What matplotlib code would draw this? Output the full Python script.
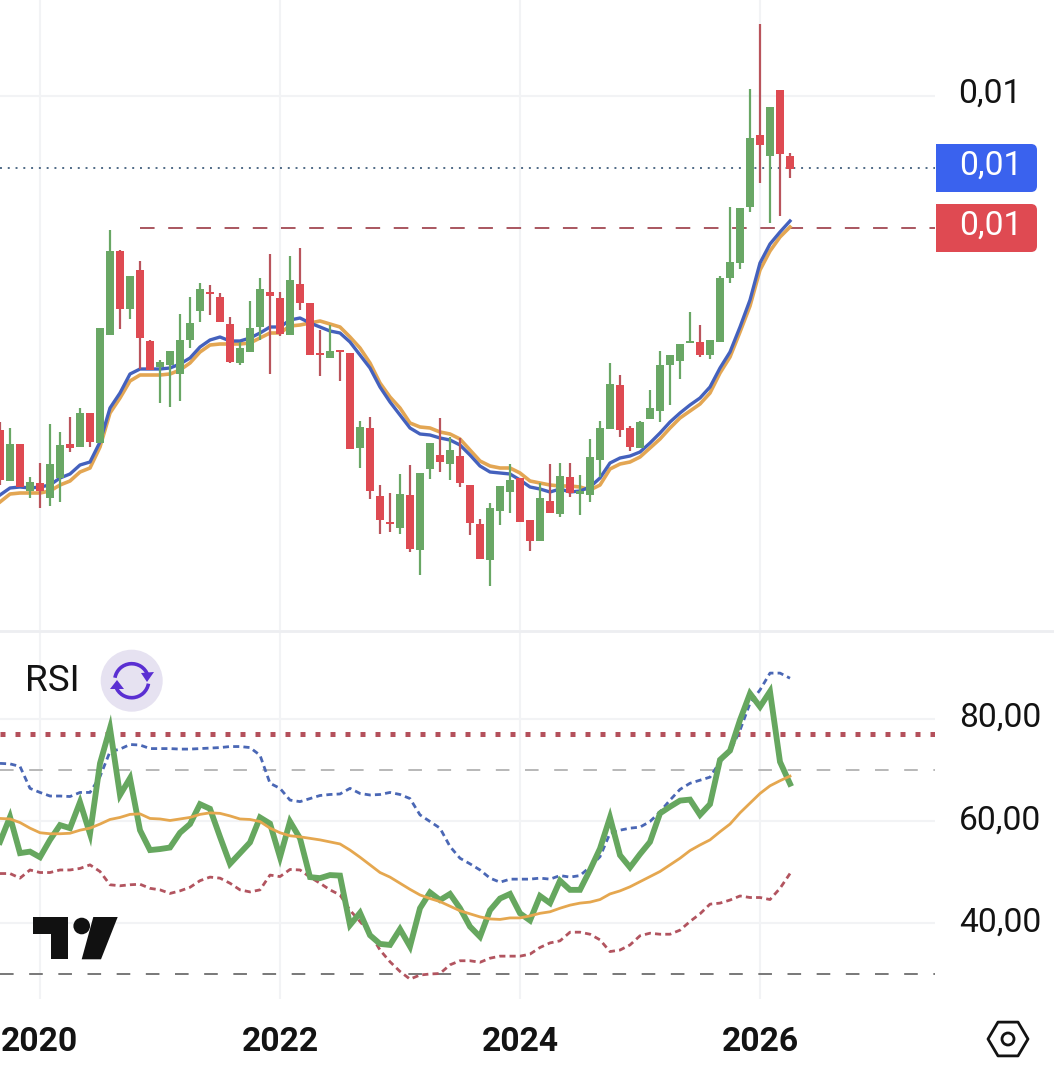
"""Monthly candlestick chart with EMA ribbon and RSI pane."""

from __future__ import annotations

import matplotlib

matplotlib.use("Agg")
import matplotlib.pyplot as plt
import numpy as np
from matplotlib.patches import Arc, Circle, FancyBboxPatch, Polygon, Rectangle

W, H = 1054, 1076

# prices, in units of 1e-5
opens = [
    666, 615, 652, 605, 613, 598, 618, 652, 649, 683,
    653, 761, 845, 787, 826, 755, 729, 731, 722, 756,
    785, 804, 799, 772, 733, 744, 769, 804, 798, 761,
    812, 793, 743, 738, 746, 743, 648, 668, 600, 574,
    568, 601, 546, 627, 641, 632, 640, 611, 572, 536,
    585, 604, 618, 576, 555, 595, 582, 619, 602, 601,
    636, 667, 711, 668, 648, 677, 685, 731, 735, 753,
    754, 741, 754, 818, 833, 889, 961, 940, 1006, 940,
]
closes = [
    616, 652, 609, 614, 605, 632, 651, 648, 683, 654,
    768, 845, 787, 820, 758, 726, 734, 745, 756, 773,
    807, 802, 774, 734, 748, 768, 807, 800, 762, 816,
    793, 741, 741, 745, 744, 647, 669, 605, 576, 572,
    602, 547, 623, 653, 634, 646, 613, 573, 537, 588,
    610, 616, 574, 555, 598, 583, 620, 603, 605, 639,
    668, 712, 666, 649, 674, 688, 731, 741, 752, 755,
    741, 756, 818, 834, 888, 958, 951, 989, 942, 927,
]
highs = [
    674, 668, 652, 619, 633, 672, 664, 679, 688, 683,
    768, 866, 846, 820, 835, 756, 736, 745, 782, 799,
    813, 811, 803, 779, 754, 795, 818, 842, 804, 840,
    848, 793, 766, 771, 746, 743, 675, 679, 611, 603,
    622, 631, 623, 653, 678, 659, 658, 611, 577, 593,
    610, 632, 618, 576, 613, 632, 633, 633, 621, 657,
    675, 733, 721, 670, 675, 706, 745, 741, 752, 784,
    771, 756, 820, 889, 888, 1007, 1072, 989, 1006, 943,
]
lows = [
    611, 615, 609, 598, 588, 590, 594, 644, 649, 649,
    653, 761, 767, 777, 727, 726, 693, 689, 695, 748,
    774, 781, 774, 733, 731, 744, 756, 722, 760, 761,
    786, 741, 720, 738, 715, 647, 628, 597, 562, 564,
    562, 544, 521, 617, 624, 616, 609, 561, 537, 510,
    571, 583, 574, 545, 555, 583, 579, 599, 581, 594,
    619, 667, 659, 645, 648, 677, 674, 691, 717, 753,
    739, 737, 754, 813, 827, 884, 913, 873, 880, 918,
]
ema_fast = [
    601, 608, 609, 608, 609, 611, 618, 622, 631, 634,
    654, 688, 703, 722, 727, 727, 727, 728, 732, 738,
    749, 756, 759, 755, 755, 758, 763, 769, 769, 776,
    778, 773, 769, 765, 763, 754, 741, 728, 709, 694,
    681, 668, 662, 661, 658, 656, 651, 641, 630, 624,
    623, 622, 616, 609, 607, 604, 607, 604, 605, 609,
    618, 633, 638, 640, 644, 653, 663, 674, 683, 691,
    698, 709, 728, 744, 769, 796, 833, 852, 864, 875,
]
ema_slow = [
    594, 602, 603, 603, 603, 605, 611, 615, 624, 628,
    649, 683, 698, 715, 721, 721, 721, 722, 726, 733,
    744, 751, 752, 752, 752, 753, 758, 763, 763, 770,
    771, 773, 775, 772, 769, 759, 748, 733, 713, 699,
    688, 673, 669, 668, 664, 662, 657, 646, 635, 630,
    628, 628, 623, 615, 613, 611, 610, 610, 609, 606,
    611, 627, 632, 634, 639, 648, 657, 668, 678, 685,
    692, 703, 723, 739, 764, 790, 826, 845, 859, 869,
]
last_price = 928
ref_price = 868
ref_start = 14
price_grid = [1000]

rsi = [
    55.9, 60.8, 53.7, 54.0, 52.9, 56.3, 59.2, 58.6, 63.7, 57.5,
    71.3, 78.2, 65.1, 68.4, 58.2, 54.3, 54.5, 54.8, 57.7, 59.4,
    63.3, 62.4, 56.9, 51.6, 53.7, 55.8, 60.7, 59.5, 52.9, 59.9,
    56.6, 49.0, 48.8, 49.4, 49.3, 39.6, 42.0, 37.6, 35.9, 35.7,
    38.8, 35.4, 42.9, 46.0, 44.5, 45.7, 42.9, 39.3, 37.3, 42.5,
    44.8, 45.7, 41.9, 40.5, 45.3, 43.9, 48.3, 46.5, 46.5, 50.4,
    54.6, 60.7, 53.3, 50.9, 53.5, 55.9, 61.5, 62.8, 64.0, 64.2,
    61.2, 63.3, 72.0, 73.8, 79.8, 85.0, 82.4, 85.4, 71.6, 67.3,
]
rsi_ma = [
    60.5, 60.4, 59.7, 58.6, 57.7, 57.5, 57.5, 57.6, 58.2, 58.6,
    59.4, 60.3, 60.7, 61.3, 61.4, 60.5, 60.4, 60.1, 60.4, 60.7,
    61.3, 61.6, 61.5, 61.0, 60.4, 60.3, 59.9, 58.6, 57.7, 57.1,
    56.9, 56.6, 56.3, 55.9, 55.5, 54.3, 52.9, 51.4, 49.9, 49.0,
    47.8, 46.6, 45.5, 44.8, 44.2, 43.3, 42.4, 41.8, 41.2, 40.8,
    40.7, 41.0, 41.0, 41.4, 41.9, 42.2, 42.9, 43.5, 43.9, 44.1,
    44.6, 45.7, 46.3, 47.1, 48.1, 49.1, 50.1, 51.4, 52.7, 54.2,
    55.3, 56.3, 57.9, 59.4, 61.6, 63.5, 65.4, 66.9, 67.9, 68.8,
]
rsi_upper = [
    71.3, 71.2, 70.7, 66.4, 65.6, 64.9, 64.9, 64.8, 65.6, 65.6,
    68.7, 73.6, 74.1, 75.0, 74.9, 74.2, 74.2, 74.2, 74.1, 74.1,
    74.2, 74.3, 74.4, 74.6, 74.6, 74.4, 72.9, 67.4, 66.4, 64.1,
    63.8, 64.4, 65.0, 65.2, 65.3, 66.4, 65.4, 65.1, 65.2, 65.6,
    65.2, 64.4, 61.2, 59.9, 58.6, 55.0, 52.7, 51.6, 50.4, 48.8,
    48.0, 48.6, 48.6, 48.6, 48.8, 48.6, 49.3, 49.0, 49.3, 51.0,
    53.0, 57.6, 58.2, 58.6, 58.8, 59.9, 61.8, 64.1, 66.2, 67.4,
    68.0, 68.6, 71.6, 73.6, 77.8, 83.1, 85.7, 89.0, 89.0, 88.0,
]
rsi_lower = [
    49.7, 49.7, 48.8, 50.4, 49.9, 49.9, 50.4, 50.4, 50.7, 51.4,
    50.1, 47.5, 47.3, 47.5, 47.6, 46.8, 46.5, 45.8, 46.3, 47.0,
    48.3, 49.0, 48.8, 47.8, 46.5, 46.1, 46.5, 49.4, 49.1, 50.5,
    50.4, 49.0, 47.8, 46.5, 45.5, 42.5, 40.3, 38.0, 34.7, 32.4,
    30.5, 29.0, 29.8, 30.0, 30.1, 31.8, 32.6, 32.6, 32.3, 33.1,
    33.5, 33.5, 33.5, 33.9, 35.2, 36.1, 36.5, 38.2, 38.2, 37.8,
    36.7, 34.4, 34.7, 35.7, 37.5, 38.0, 37.8, 37.8, 38.6, 40.3,
    41.8, 43.7, 43.9, 44.5, 45.3, 45.0, 45.0, 44.6, 46.8, 49.7,
]
rsi_ticks = [80, 60, 40]
rsi_tick_labels = ["80,00", "60,00", "40,00"]
rsi_alert = 77
rsi_band_hi = 70
rsi_band_lo = 30

# first candle is Sep 2019, one slot per month
first_year, first_month = 2019, 9
tick_years = [2020, 2022, 2024, 2026]

GREEN = "#69a765"
RED = "#de4a52"
RED_WICK = "#b9545c"
GRID = "#f2f3f5"
FONT = "Roboto"


def _px_axes(fig, left: float, top: float, right: float, bottom: float):
    return fig.add_axes([left / W, 1 - bottom / H, (right - left) / W, (bottom - top) / H])


def _style(ax, ylim, year_pos) -> None:
    ax.set_xlim(0, 93.5)
    ax.set_ylim(*ylim)
    for s in ax.spines.values():
        s.set_visible(False)
    ax.set_xticks([])
    ax.set_yticks([])
    for p in year_pos:
        ax.axvline(p, color=GRID, lw=1.5, zorder=0)


def _draw_price(ax, x: np.ndarray) -> None:
    o, c, h, l = [np.array(v) * 1e-5 for v in (opens, closes, highs, lows)]
    up = c >= o
    for yv in price_grid:
        ax.axhline(yv * 1e-5, color=GRID, lw=1.5, zorder=0)
    ax.axhline(last_price * 1e-5, color="#4f6a86", lw=1.4, ls=(0, (1, 3)), zorder=1)
    ax.plot([ref_start, 93.5], [ref_price * 1e-5] * 2, color="#a9565f", lw=1.4, ls=(0, (7.5, 7)), zorder=1)
    ax.plot(x, np.array(ema_slow) * 1e-5, color="#e3a653", lw=2.6, zorder=2)
    ax.plot(x, np.array(ema_fast) * 1e-5, color="#4461bd", lw=2.4, zorder=2)
    ax.vlines(x[up], l[up], h[up], color=GREEN, lw=1.6, zorder=3)
    ax.vlines(x[~up], l[~up], h[~up], color=RED_WICK, lw=1.6, zorder=3)
    ax.bar(x[up], (c - o)[up], bottom=o[up], width=0.8, color=GREEN, lw=0, zorder=4)
    ax.bar(x[~up], (c - o)[~up], bottom=o[~up], width=0.8, color=RED, lw=0, zorder=4)


def _draw_rsi(ax, x: np.ndarray) -> None:
    for yv in rsi_ticks:
        ax.axhline(yv, color=GRID, lw=1.5, zorder=0)
    ax.axhline(rsi_band_hi, color="#b8b8b8", lw=1.4, ls=(0, (7, 8)), zorder=1)
    ax.axhline(rsi_band_lo, color="#787878", lw=1.4, ls=(0, (7, 8)), zorder=1)
    ax.axhline(rsi_alert, color="#b4505b", lw=3.6, ls=(0, (1, 2)), zorder=1)
    ax.plot(x, rsi_upper, color="#4a67b5", lw=2.0, ls=(0, (2.2, 1.5)), zorder=2)
    ax.plot(x, rsi_lower, color="#b2545f", lw=2.0, ls=(0, (2.2, 1.5)), zorder=2)
    ax.plot(x, rsi, color="#66a75f", lw=4.2, solid_joinstyle="miter", zorder=3)
    ax.plot(x, rsi_ma, color="#e5a74f", lw=2.0, zorder=4)


def _price_badge(ov, top: float, color: str) -> None:
    ov.add_patch(FancyBboxPatch((944, top), 93, 48, boxstyle="round,pad=0,rounding_size=6", fc=color, ec="none"))
    ov.add_patch(Rectangle((936, top), 40, 48, fc=color, ec="none"))
    ov.text(991, top + 21.5, "0,01", color="white", fontsize=24.2, family=FONT, ha="center", va="center")


def _draw_overlay(ov, year_pos) -> None:
    ov.set_xlim(0, W)
    ov.set_ylim(H, 0)
    ov.axis("off")
    ov.plot([0, W], [631, 631], color="#edeef1", lw=2)

    ov.text(989.5, 94, "0,01", color="#131313", fontsize=24.2, family=FONT, ha="center", va="center")
    _price_badge(ov, 144, "#3a62ee")
    _price_badge(ov, 204, "#df4a52")

    for label, py in zip(rsi_tick_labels, [718, 821, 923]):
        ov.text(1000, py, label, color="#131313", fontsize=24.2, family=FONT, ha="center", va="center")

    ov.text(25, 681, "RSI", color="#131313", fontsize=26.5, family=FONT, ha="left", va="center")
    ov.add_patch(Circle((131.7, 680.7), 31, fc="#e6e2f1", ec="none"))
    purple = "#5a2fd2"
    ov.add_patch(Arc((131.7, 680.7), 34, 34, theta1=190, theta2=340, color=purple, lw=2.6))
    ov.add_patch(Arc((131.7, 680.7), 34, 34, theta1=10, theta2=160, color=purple, lw=2.6))
    ov.add_patch(Polygon([(141, 673), (154, 672), (147, 682)], fc=purple, ec="none"))
    ov.add_patch(Polygon([(110, 689), (124, 689), (117, 680)], fc=purple, ec="none"))

    # logo
    ov.add_patch(Polygon([(33.3, 917), (67.7, 917), (67.7, 959.3), (50.7, 959.3), (50.7, 934), (33.3, 934)],
                         fc="#111111", ec="none"))
    ov.add_patch(Circle((81.7, 926), 8.3, fc="#111111", ec="none"))
    ov.add_patch(Polygon([(93.3, 917), (117.7, 917), (101, 959.3), (81.7, 959.3)], fc="#111111", ec="none"))

    for year, p in zip(tick_years, year_pos):
        ov.text(p * 10, 1042, str(year), color="#131313", fontsize=24.2, family=FONT, weight="bold",
                ha="center", va="center")

    ang = np.deg2rad(np.arange(0, 360, 60))
    hexagon = np.column_stack([1008 + 20 * np.cos(ang), 1039 + 19.5 * np.sin(ang)])
    ov.add_patch(Polygon(hexagon, fc="none", ec="#131313", lw=2.0, joinstyle="round"))
    ov.add_patch(Circle((1008, 1039), 6, fc="none", ec="#131313", lw=2.0))


def main() -> None:
    x = np.arange(len(opens))
    year_pos = [(y - first_year) * 12 - (first_month - 1) for y in tick_years]

    fig = plt.figure(figsize=(W / 100, H / 100), dpi=100, facecolor="white")
    ax_price = _px_axes(fig, 0, 0, 935, 630)
    _style(ax_price, (466e-5, 1096e-5), year_pos)
    _draw_price(ax_price, x)

    ax_rsi = _px_axes(fig, 0, 632, 935, 999)
    _style(ax_rsi, (25.10, 97.06), year_pos)
    _draw_rsi(ax_rsi, x)

    ov = fig.add_axes([0, 0, 1, 1], zorder=5)
    ov.patch.set_alpha(0)
    _draw_overlay(ov, year_pos)

    fig.savefig("out.png", dpi=100)
    plt.close(fig)


if __name__ == "__main__":
    main()
